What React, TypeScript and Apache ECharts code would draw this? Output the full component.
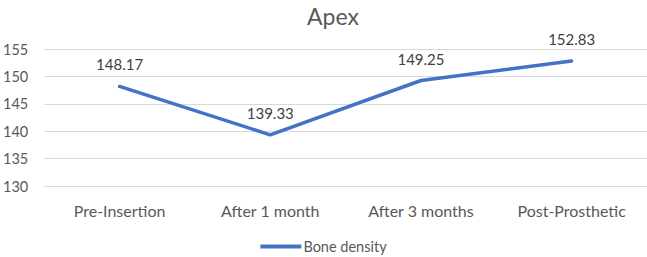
import React, { useEffect, useRef } from "react";
import * as echarts from "echarts";

const categories = ["Pre-Insertion", "After 1 month", "After 3 months", "Post-Prosthetic"];
const boneDensity = [148.17, 139.33, 149.25, 152.83];
const seriesName = "Bone density";
const titleText = "Apex";

export default function App() {
  const ref = useRef<HTMLDivElement>(null);
  useEffect(() => {
    document.body.style.margin = "0";
    if (!ref.current) return;
    const chart = echarts.init(ref.current, null, { renderer: "svg" });
    const font = "Lato, 'Open Sans', sans-serif";
    chart.setOption({
      animation: false,
      backgroundColor: "#ffffff",
      title: {
        text: titleText,
        left: 328,
        textAlign: "center",
        top: -1,
        textStyle: { fontFamily: font, fontSize: 23, fontWeight: "normal", color: "#595959" },
      },
      legend: {
        data: [seriesName],
        top: 239,
        left: "center",
        padding: 0,
        itemWidth: 41,
        itemHeight: 4,
        itemGap: 4,
        icon: "rect",
        textStyle: { fontFamily: font, fontSize: 14.5, color: "#595959", padding: [0, 0, 0, -3] },
      },
      grid: { left: 41, right: 0, top: 49, bottom: 71, containLabel: false },
      xAxis: {
        type: "category",
        data: categories,
        boundaryGap: true,
        axisLine: { show: false },
        axisTick: { show: false },
        axisLabel: { fontFamily: font, fontSize: 16, color: "#595959", margin: 16 },
      },
      yAxis: {
        type: "value",
        min: 130,
        max: 155,
        interval: 5,
        axisLine: { show: false },
        axisTick: { show: false },
        axisLabel: { fontFamily: font, fontSize: 14.5, color: "#595959", margin: 16 },
        splitLine: { lineStyle: { color: "#d9d9d9", width: 1 } },
      },
      series: [
        {
          name: seriesName,
          type: "line",
          data: boneDensity,
          symbol: "circle",
          symbolSize: 1,
          showSymbol: true,
          lineStyle: { color: "#4472C4", width: 3.5, cap: "round", join: "round" },
          itemStyle: { color: "#4472C4" },
          label: {
            show: true,
            position: "top",
            distance: 14,
            fontFamily: font,
            fontSize: 15,
            color: "#404040",
            formatter: (p: any) => p.value.toFixed(2),
          },
        },
      ],
    });
    return () => chart.dispose();
  }, []);
  return <div ref={ref} style={{ width: 647, height: 257 }} />;
}
